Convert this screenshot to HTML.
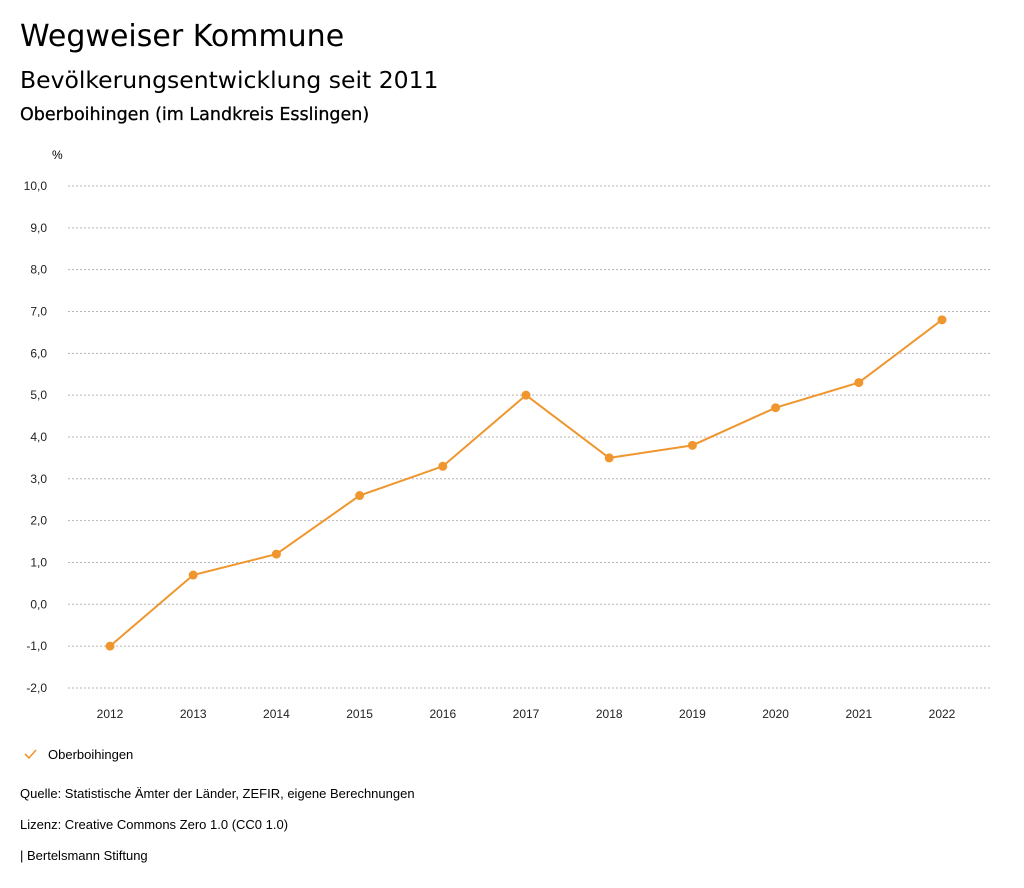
<!DOCTYPE html>
<html><head><meta charset="utf-8">
<style>
body{margin:0;background:#fff;font-family:"Liberation Sans","DejaVu Sans",sans-serif;color:#000;}
.wrap{position:relative;width:1024px;height:888px;overflow:hidden;}
.t{position:absolute;left:20px;white-space:nowrap;}
</style></head>
<body>
<div class="wrap">
<div class="t" style="top:19px;font-size:30px;font-family:'DejaVu Sans',sans-serif;">Wegweiser Kommune</div>
<div class="t" style="top:66px;font-size:23.5px;font-family:'DejaVu Sans',sans-serif;">Bevölkerungsentwicklung seit 2011</div>
<div class="t" style="top:105px;font-size:17.5px;font-family:'DejaVu Sans',sans-serif;-webkit-text-stroke:0.3px #000;">Oberboihingen (im Landkreis Esslingen)</div>
<svg id="chart" width="1024" height="888" style="position:absolute;left:0;top:0"></svg>
<div class="t" style="top:786px;font-size:13px;">Quelle: Statistische Ämter der Länder, ZEFIR, eigene Berechnungen</div>
<div class="t" style="top:817px;font-size:13px;">Lizenz: Creative Commons Zero 1.0 (CC0 1.0)</div>
<div class="t" style="top:848px;font-size:13px;">| Bertelsmann Stiftung</div>
</div>
<script>
const years=["2012","2013","2014","2015","2016","2017","2018","2019","2020","2021","2022"];
const values=[-1.0,0.7,1.2,2.6,3.3,5.0,3.5,3.8,4.7,5.3,6.8];
const yTicks=[-2,-1,0,1,2,3,4,5,6,7,8,9,10];
const seriesName="Oberboihingen";
const NS="http://www.w3.org/2000/svg";
const svg=document.getElementById('chart');
const color="#f0962e";
function y(v){return 604.3-v*41.83;}
function x(i){return 110+i*83.2;}
function mk(t,a,p){const e=document.createElementNS(NS,t);for(const k in a)e.setAttribute(k,a[k]);(p||svg).appendChild(e);return e;}
const unit=mk('text',{x:52,y:159,'font-size':12,'font-family':'Liberation Sans, sans-serif'});
unit.textContent='%';


yTicks.forEach(v=>{
 const g=mk('line',{x1:68,x2:990,y1:y(v),y2:y(v),stroke:'#b5b5b5','stroke-dasharray':'2,2','stroke-width':1});
 
 
 const t=mk('text',{x:47,y:y(v)+4,'text-anchor':'end','font-size':12,'font-family':'Liberation Sans, sans-serif',fill:'#222'});
 t.textContent=(v).toFixed(1).replace('.',',');
 
 
});
years.forEach((yr,i)=>{
 const t=mk('text',{x:x(i),y:718,'text-anchor':'middle','font-size':12,'font-family':'Liberation Sans, sans-serif',fill:'#222'});
 t.textContent=yr;
 
 
});
const pl=mk('polyline',{points:values.map((v,i)=>x(i)+','+y(v)).join(' '),fill:'none',stroke:color,'stroke-width':2});


values.forEach((v,i)=>{
 const c=mk('circle',{cx:x(i),cy:y(v),r:4.5,fill:color});
 
 
});
const lg=mk('polyline',{points:'25,754 29,758 36,750',fill:'none',stroke:color,'stroke-width':1.6});


const lt=mk('text',{x:48,y:759,'font-size':13,'font-family':'Liberation Sans, sans-serif'});
lt.textContent=seriesName;


</script>
</body></html>
